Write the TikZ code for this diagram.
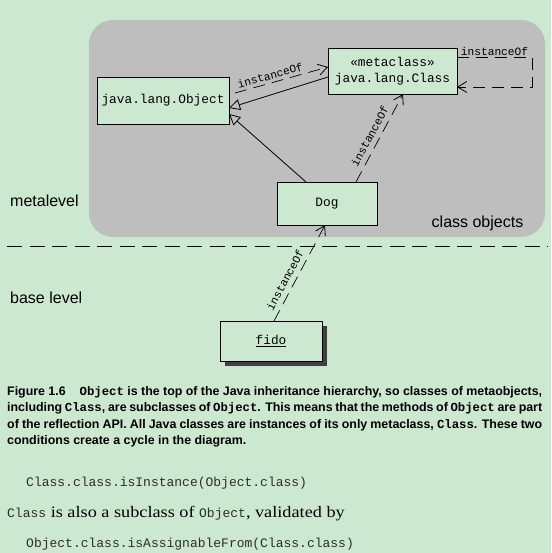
\documentclass[tikz,border=0pt]{standalone}
\usepackage{fontspec}
\setmainfont[FakeStretch=1.14]{Liberation Serif}
\setsansfont{Liberation Sans}
\setmonofont{Liberation Mono}
\newfontfamily\capfont{Liberation Sans}
\usetikzlibrary{arrows.meta,calc,shadows}
\definecolor{bgc}{RGB}{205,232,208}
\definecolor{grayc}{RGB}{190,190,190}
\definecolor{codec}{RGB}{45,45,45}
\newcommand\capcode[1]{{\ttfamily\bfseries\fontsize{12.3}{16}\selectfont #1}}
\newcommand\capline[1]{\makebox[535pt][s]{#1}}
\begin{document}
\begin{tikzpicture}[x=1pt,y=-1pt,
  umlbox/.style={draw=black, line width=0.8pt, fill=bgc, inner sep=2pt, outer sep=0pt,
    font=\ttfamily\fontsize{12.8}{16}\selectfont, align=center},
  lbl/.style={font=\ttfamily\fontsize{11.2}{13}\selectfont, inner sep=3pt},
  slbl/.style={lbl, sloped, above, inner sep=5pt},
  inst/.style={draw=black, line width=0.7pt, dash pattern=on 12pt off 7pt,
    -{Straight Barb[length=9pt,width=11pt,line width=0.8pt]}},
  gen/.style={draw=black, line width=0.8pt, -{Triangle[open,length=11pt,width=11pt,line width=0.8pt]}},
  side/.style={font=\sffamily\fontsize{16}{18}\selectfont, inner sep=0pt},
  capl/.style={anchor=base west, inner sep=0pt, font=\capfont\bfseries\fontsize{12.4}{16}\selectfont},
  codel/.style={anchor=base west, inner sep=0pt, text=codec, font=\ttfamily\fontsize{13}{16}\selectfont}]
\useasboundingbox (0,0) rectangle (551,553);
\fill[bgc] (0,0) rectangle (551,553);
\fill[grayc, rounded corners=24pt] (89,20) rectangle (545,237);
\draw[line width=1pt, dash pattern=on 15pt off 7.5pt] (7,246.5) -- (548,246.5);

\node[side, anchor=west] (meta) at (10,201) {metalevel};
\node[side, anchor=west] (base) at (10,298) {base level};
\node[side] (clo) at (477.5,223) {class objects};

\node[umlbox, minimum width=132pt, minimum height=47pt] (obj) at (163,100.5) {java.lang.Object};
\node[umlbox, minimum width=129pt, minimum height=46pt] (cls) at (392.5,71) {«metaclass»\\java.lang.Class};
\node[umlbox, minimum width=100pt, minimum height=43pt] (dog) at (327,203.5) {Dog};
\node[umlbox, minimum width=102pt, minimum height=40pt,
  drop shadow={shadow xshift=5pt, shadow yshift=-5pt, opacity=1, fill=black!75}] (fido) at (271,341) {\underline{fido}};

\draw[inst] ([xshift=6pt,yshift=7.5pt]obj.east) -- node[lbl, sloped, above, pos=0.4] {instanceOf} ([yshift=4pt]cls.west);
\draw[gen] ([yshift=-6pt]cls.west) -- ([yshift=-7.5pt]obj.east);
\draw[gen] ([xshift=-21pt]dog.north) -- ([yshift=-13.5pt]obj.east);
\draw[inst] ([xshift=29pt]dog.north) -- node[slbl, pos=0.47] {instanceOf} ([xshift=10.5pt]cls.south);
\coordinate (lp) at ($(cls.east)+(75,0)$);
\draw[inst] ([yshift=14pt]cls.east) -- node[lbl, above, pos=0.5, inner sep=1.5pt] {instanceOf} ([yshift=14pt]lp) -- ([yshift=-16pt]lp) -- ([yshift=-16pt]cls.east);
\draw[inst] ([xshift=3pt]fido.north) -- node[slbl, pos=0.38] {instanceOf} ([xshift=-2pt]dog.south);

\node[capl] (c1) at (7,395) {\capline{Figure 1.6\hspace{14pt}\capcode{Object} is the top of the Java inheritance hierarchy, so classes of metaobjects,}};
\node[capl] (c2) at (7,411.5) {\capline{including \capcode{Class}, are subclasses of \capcode{Object}. This means that the methods of \capcode{Object} are part}};
\node[capl] (c3) at (7,428) {\capline{of the reflection API. All Java classes are instances of its only metaclass, \capcode{Class}. These two}};
\node[capl] (c4) at (7,444.5) {conditions create a cycle in the diagram.};

\node[codel] (k1) at (26,486) {Class.class.isInstance(Object.class)};
\node[anchor=base west, inner sep=0pt, font=\fontsize{16}{18}\selectfont] (s1) at (7,517)
  {{\ttfamily\fontsize{13}{16}\selectfont\color{codec}Class} is also a subclass of {\ttfamily\fontsize{13}{16}\selectfont\color{codec}Object}, validated by};
\node[codel] (k2) at (26,547) {Object.class.isAssignableFrom(Class.class)};
\end{tikzpicture}
\end{document}
